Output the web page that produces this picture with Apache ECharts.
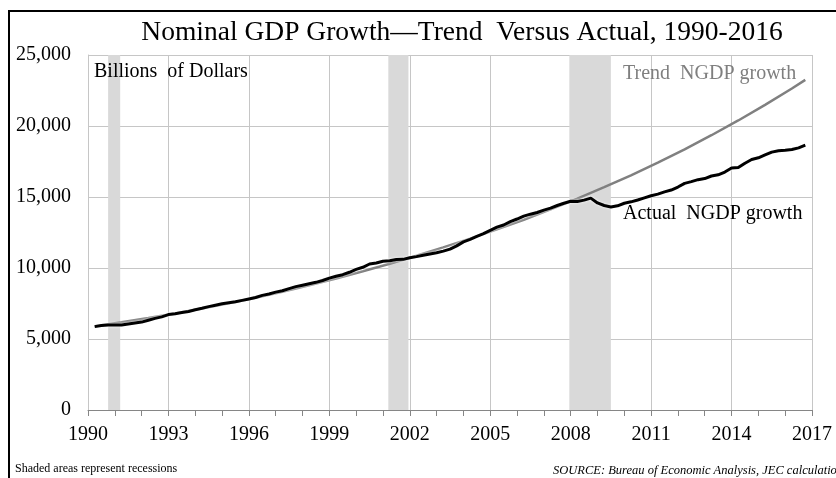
<!DOCTYPE html>
<html>
<head>
<meta charset="utf-8">
<script src="https://cdn.jsdelivr.net/npm/echarts@6/dist/echarts.min.js"></script>
<style>
  html, body { margin: 0; padding: 0; background: #fff; }
  #chart { width: 836px; height: 478px; }
</style>
</head>
<body>
<div id="chart"></div>
<script>
// Actual nominal GDP, billions of dollars, quarterly from 1990 Q1 to 2016 Q3
const actualStartYear = 1990;
const actualQuarterly = [
  5870, 5950, 5990, 5990,
  5990, 6060, 6130, 6190,
  6320, 6450, 6560, 6720,
  6780, 6860, 6940, 7060,
  7160, 7280, 7380, 7480,
  7550, 7620, 7720, 7820,
  7920, 8070, 8170, 8300,
  8400, 8550, 8690, 8790,
  8890, 8990, 9120, 9290,
  9420, 9530, 9700, 9900,
  10050, 10280, 10350, 10470,
  10510, 10600, 10610, 10720,
  10800, 10900, 10990, 11070,
  11190, 11330, 11560, 11840,
  12020, 12230, 12420, 12650,
  12880, 13030, 13270, 13450,
  13650, 13790, 13910, 14080,
  14220, 14400, 14560, 14700,
  14690, 14780, 14920, 14580,
  14400, 14300, 14380, 14560,
  14660, 14790, 14940, 15090,
  15200, 15360, 15490, 15700,
  15960, 16080, 16220, 16300,
  16480, 16560, 16760, 17040,
  17070, 17380, 17640, 17760,
  17960, 18160, 18260, 18290,
  18340, 18460, 18650
];

// Trend path of nominal GDP growth
const trendYears = [
  1990.25, 1991.25, 1992.25, 1993.25, 1994.25, 1995.25, 1996.25, 1997.25,
  1998.25, 1999.25, 2000.25, 2001.25, 2002.25, 2003.25, 2004.25, 2005.25,
  2006.25, 2007.25, 2008.25, 2009.25, 2010.25, 2011.25, 2012.25, 2013.25,
  2014.25, 2015.25, 2016.25, 2016.75
];
const trendValues = [
  5900, 6180, 6480, 6800, 7150, 7520, 7910, 8330,
  8780, 9260, 9770, 10300, 10860, 11450, 12070, 12720,
  13400, 14130, 14890, 15690, 16530, 17420, 18360, 19350,
  20390, 21490, 22640, 23250
];

// Recession periods (shaded)
const recessions = [
  [1990.75, 1991.2],
  [2001.2, 2001.95],
  [2007.95, 2009.5]
];

const yTicks = [0, 5000, 10000, 15000, 20000, 25000];
const xTickYears = [1990, 1993, 1996, 1999, 2002, 2005, 2008, 2011, 2014, 2017];

const SERIF = "'Liberation Serif', 'Times New Roman', serif";

const actualData = actualQuarterly.map((v, i) => [actualStartYear + (i + 1) / 4, v]);
const trendData = trendValues.map((v, i) => [trendYears[i], v]);

const chart = echarts.init(document.getElementById('chart'), null, { renderer: 'canvas' });

chart.setOption({
  animation: false,
  backgroundColor: '#ffffff',
  title: {
    text: 'Nominal GDP Growth\u2014Trend  Versus Actual, 1990-2016',
    left: 457,
    textAlign: 'center',
    top: 14,
    textStyle: { fontFamily: SERIF, fontSize: 27.5, fontWeight: 'normal', color: '#000' }
  },
  grid: { left: 88, right: 24, top: 55, bottom: 68 },
  xAxis: {
    type: 'value',
    min: xTickYears[0],
    max: xTickYears[xTickYears.length - 1],
    interval: 3,
    axisLine: { show: true, lineStyle: { color: '#868686', width: 1 } },
    axisTick: { show: true, length: 6, lineStyle: { color: '#868686' } },
    minorTick: { show: true, splitNumber: 3, length: 6, lineStyle: { color: '#868686' } },
    axisLabel: {
      fontFamily: SERIF, fontSize: 20, color: '#000', margin: 15,
      formatter: v => String(v)
    },
    splitLine: { show: true, lineStyle: { color: '#c6c6c6', width: 1 } }
  },
  yAxis: {
    type: 'value',
    min: yTicks[0],
    max: yTicks[yTicks.length - 1],
    interval: 5000,
    axisLine: { show: true, lineStyle: { color: '#c6c6c6' } },
    axisTick: { show: false },
    axisLabel: {
      fontFamily: SERIF, fontSize: 20, color: '#000', margin: 17,
      formatter: v => v.toLocaleString('en-US')
    },
    splitLine: { show: true, lineStyle: { color: '#c6c6c6', width: 1 } }
  },
  series: [
    {
      name: 'Trend NGDP growth',
      type: 'line',
      data: trendData,
      showSymbol: false,
      z: 3,
      lineStyle: { color: '#808080', width: 2.5 },
      markArea: {
        silent: true,
        itemStyle: { color: '#d9d9d9' },
        data: recessions.map(r => [{ xAxis: r[0] }, { xAxis: r[1] }])
      }
    },
    {
      name: 'Actual NGDP growth',
      type: 'line',
      data: actualData,
      showSymbol: false,
      z: 4,
      lineStyle: { color: '#000000', width: 3, shadowColor: 'rgba(255,255,255,1)', shadowBlur: 3 }
    }
  ],
  graphic: [
    { type: 'line', z: 100, shape: { x1: 9, y1: 11, x2: 9, y2: 478 }, style: { stroke: '#000', lineWidth: 2 } },
    { type: 'line', z: 100, shape: { x1: 8, y1: 11, x2: 836, y2: 11 }, style: { stroke: '#000', lineWidth: 2 } },
    { type: 'text', z: 100, left: 94, top: 62, style: { text: 'Billions  of Dollars', fontFamily: SERIF, fontSize: 20, fill: '#000' } },
    { type: 'text', z: 100, left: 623, top: 64, style: { text: 'Trend  NGDP growth', fontFamily: SERIF, fontSize: 20, fill: '#7f7f7f' } },
    { type: 'text', z: 100, left: 623, top: 204, style: { text: 'Actual  NGDP growth', fontFamily: SERIF, fontSize: 20, fill: '#000' } },
    { type: 'text', z: 100, left: 15, top: 463, style: { text: 'Shaded areas represent recessions', fontFamily: SERIF, fontSize: 12, fill: '#000' } },
    { type: 'text', z: 100, left: 553, top: 464, style: { text: 'SOURCE: Bureau of Economic Analysis, JEC calculations', fontFamily: SERIF, fontSize: 12.5, fontStyle: 'italic', fill: '#000' } }
  ]
});
</script>
</body>
</html>
